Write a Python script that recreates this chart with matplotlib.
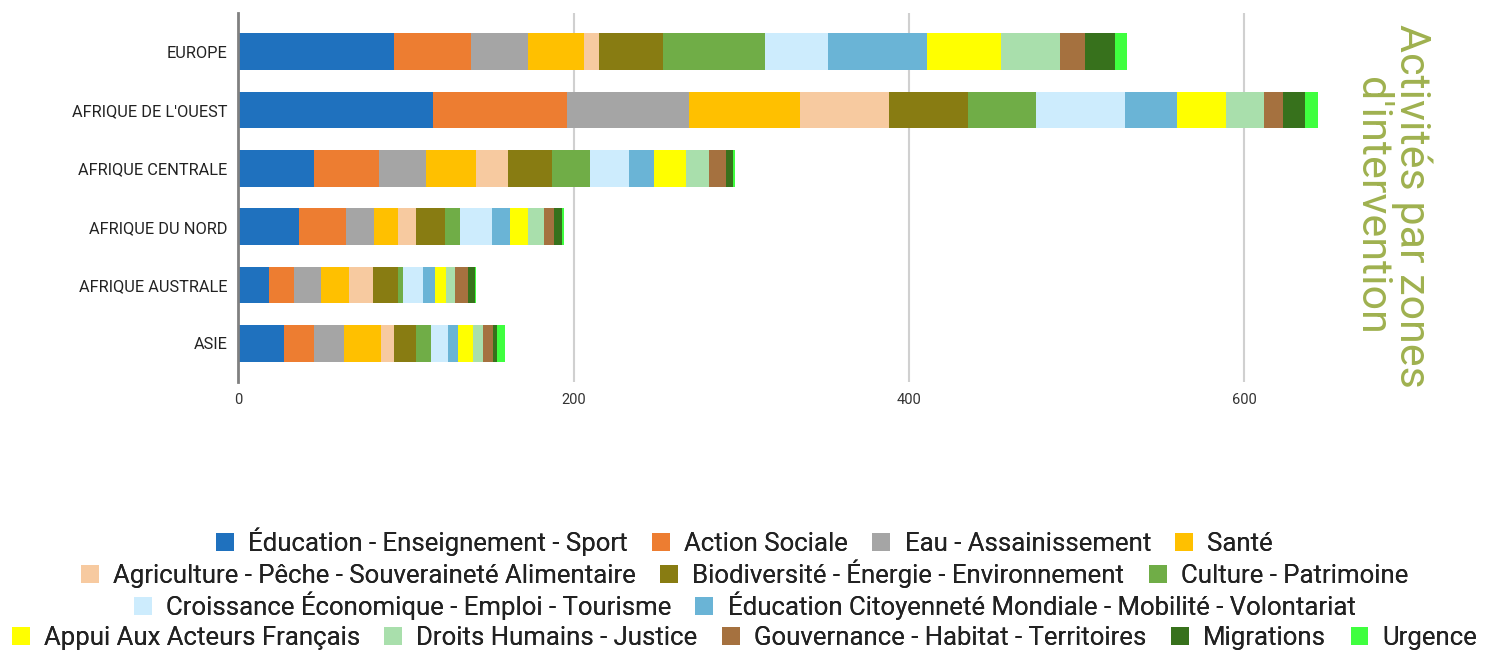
import matplotlib.pyplot as plt
import numpy as np
from matplotlib.patches import Patch

plt.rcParams['font.family'] = ['Roboto', 'DejaVu Sans']

zones = ['EUROPE', "AFRIQUE DE L'OUEST", 'AFRIQUE CENTRALE',
         'AFRIQUE DU NORD', 'AFRIQUE AUSTRALE', 'ASIE']

activites = [
    'Éducation - Enseignement - Sport',
    'Action Sociale',
    'Eau - Assainissement',
    'Santé',
    'Agriculture - Pêche - Souveraineté Alimentaire',
    'Biodiversité - Énergie - Environnement',
    'Culture - Patrimoine',
    'Croissance Économique - Emploi - Tourisme',
    'Éducation Citoyenneté Mondiale - Mobilité - Volontariat',
    'Appui Aux Acteurs Français',
    'Droits Humains - Justice',
    'Gouvernance - Habitat - Territoires',
    'Migrations',
    'Urgence',
]

# nombre d'activités par zone (une liste par thème, dans l'ordre des zones)
education = [93, 116, 45, 36, 18, 27]
action_sociale = [46, 80, 39, 28, 15, 18]
eau = [34, 73, 28, 17, 16, 18]
sante = [33, 66, 30, 14, 17, 22]
agriculture = [9, 53, 19, 11, 14, 8]
biodiversite = [38, 47, 26, 17, 15, 13]
culture = [61, 41, 23, 9, 3, 9]
croissance = [38, 53, 23, 19, 12, 10]
citoyennete = [59, 31, 15, 11, 7, 6]
appui = [44, 29, 19, 11, 7, 9]
droits = [35, 23, 14, 9, 5, 6]
gouvernance = [15, 11, 10, 6, 8, 6]
migrations = [18, 13, 4, 5, 4, 2]
urgence = [7, 8, 1, 1, 1, 5]

series = [education, action_sociale, eau, sante, agriculture, biodiversite,
          culture, croissance, citoyennete, appui, droits, gouvernance,
          migrations, urgence]

couleurs = ['#1f71be', '#ed7d31', '#a5a5a5', '#ffc000', '#f7caa0', '#887c12',
            '#70ad47', '#cdecfd', '#6ab4d6', '#ffff00', '#a9dfac', '#a5713f',
            '#37711c', '#3fff3f']

fig = plt.figure(figsize=(14.98, 6.55), dpi=100)
ax = fig.add_axes([0.1592, 0.4168, 0.7273, 0.5634])

y = np.arange(len(zones))
gauche = np.zeros(len(zones))
for vals, nom, c in zip(series, activites, couleurs):
    ax.barh(y, vals, left=gauche, height=0.63, color=c, label=nom,
            edgecolor='none', zorder=3)
    gauche += np.array(vals)

ax.set_xlim(0, 650)
ax.set_ylim(5.66, -0.66)
ax.set_yticks(y)
ax.set_yticklabels(zones, fontsize=11.8, color='#222222')
ax.set_xticks([0, 200, 400, 600])
ax.tick_params(axis='x', labelsize=10.5, colors='#333333', length=0, pad=8)
ax.tick_params(axis='y', length=0, pad=8)
ax.grid(axis='x', color='#d0d0d0', linewidth=1.5, zorder=0)
for s in ['top', 'right', 'bottom']:
    ax.spines[s].set_visible(False)
ax.spines['left'].set_color('#808080')
ax.spines['left'].set_linewidth(2)
ax.spines['left'].set_zorder(4)

# légende en quatre lignes centrées
handles = [Patch(facecolor=c, edgecolor='none') for c in couleurs]
lignes = [(0, 4), (4, 7), (7, 9), (9, 14)]
y_lignes = [0.1725, 0.1237, 0.0748, 0.026]
for (a, b), yl in zip(lignes, y_lignes):
    leg = fig.legend(handles[a:b], activites[a:b], ncol=b - a,
                     loc='center', bbox_to_anchor=(0.497, yl),
                     frameon=False, fontsize=18.5, handlelength=0.7,
                     handleheight=0.7, handletextpad=0.55,
                     columnspacing=0.95, borderpad=0, borderaxespad=0)
    for t in leg.get_texts():
        t.set_color('#222222')
    fig.add_artist(leg)

fig.text(0.929, 0.6855, "Activités par zones\nd'intervention",
         rotation=270, ha='center', va='center', multialignment='center',
         fontsize=31, color='#9fb14f', linespacing=0.95)

fig.savefig('out.png', dpi=100, facecolor='white')
